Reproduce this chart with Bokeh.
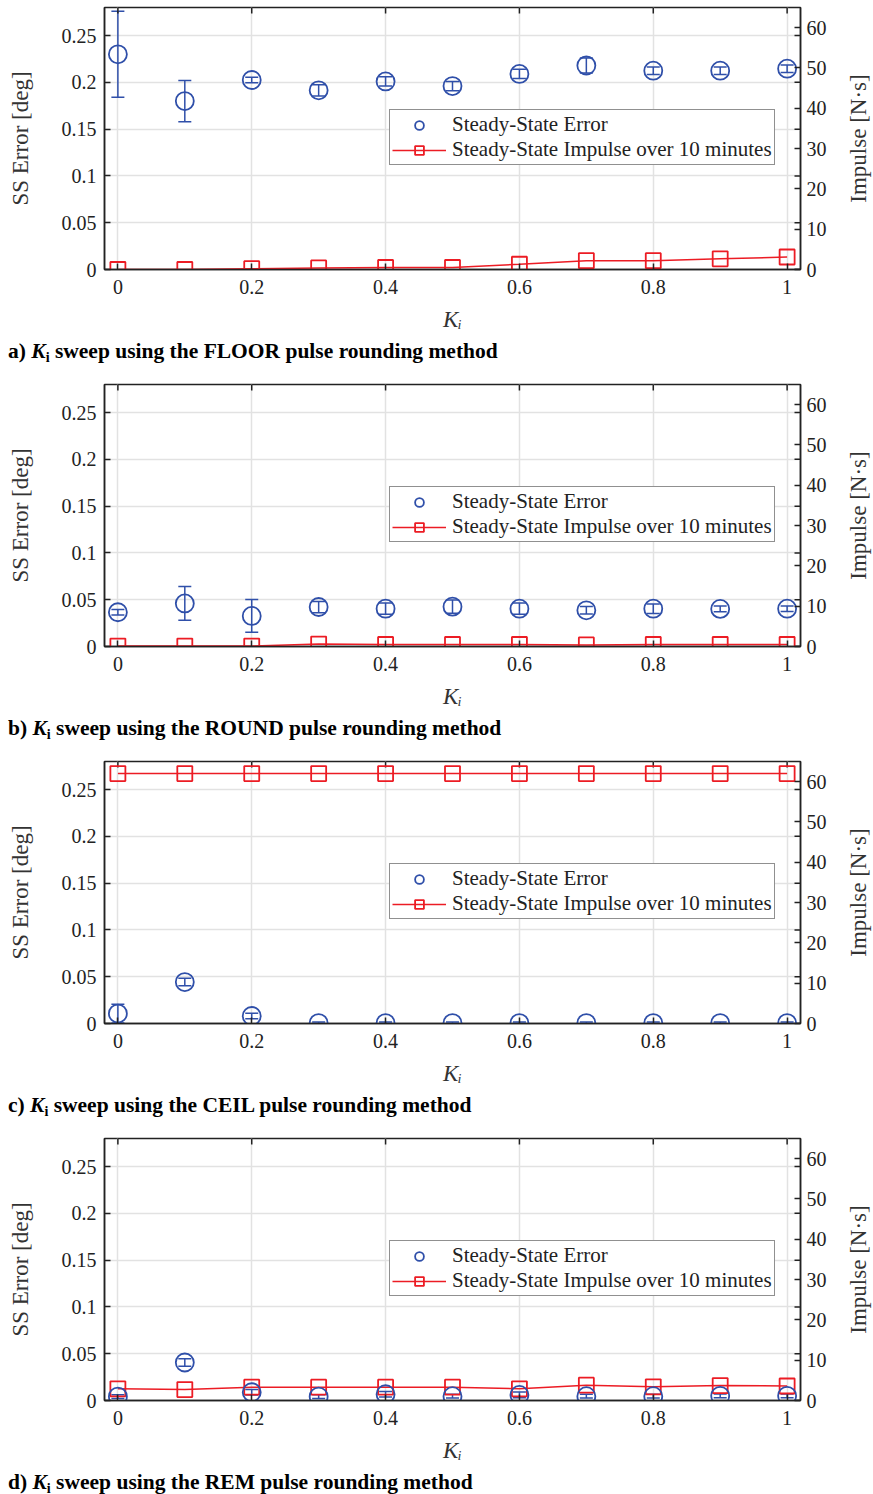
import math
from bokeh.plotting import figure
from bokeh.models import (Range1d, LinearAxis, Whisker, TeeHead, ColumnDataSource,
                          Legend, LegendItem, FixedTicker, Div, Grid)
from bokeh.core.properties import value
from bokeh.layouts import column, row
from bokeh.embed import file_html
from bokeh.resources import INLINE

# ---------------- data ----------------
ki = [0.0, 0.1, 0.2, 0.3, 0.4, 0.5, 0.6, 0.7, 0.8, 0.9, 1.0]

floor_err = [0.230, 0.180, 0.2025, 0.1915, 0.201, 0.196, 0.209, 0.218, 0.2125, 0.2125, 0.2146]
floor_std = [0.046, 0.022, 0.003, 0.006, 0.005, 0.005, 0.005, 0.008, 0.004, 0.004, 0.004]
floor_imp = [0.0, 0.0, 0.2, 0.4, 0.5, 0.5, 1.3, 2.2, 2.2, 2.65, 3.1]

round_err = [0.0366, 0.046, 0.0327, 0.0422, 0.0404, 0.0426, 0.0404, 0.0387, 0.0404, 0.0402, 0.0404]
round_std = [0.003, 0.018, 0.0175, 0.006, 0.006, 0.007, 0.006, 0.004, 0.005, 0.003, 0.003]
round_imp = [0.1, 0.1, 0.1, 0.6, 0.5, 0.5, 0.5, 0.4, 0.5, 0.5, 0.5]

ceil_err = [0.0106, 0.0443, 0.008, 0.0005, 0.0005, 0.0005, 0.0005, 0.0005, 0.0005, 0.0005, 0.0005]
ceil_std = [0.010, 0.004, 0.003, 0.001, 0.001, 0.001, 0.001, 0.001, 0.001, 0.001, 0.001]
ceil_imp = [62.0, 62.0, 62.0, 62.0, 62.0, 62.0, 62.0, 62.0, 62.0, 62.0, 62.0]

rem_err = [0.0042, 0.0406, 0.0088, 0.0042, 0.0067, 0.0046, 0.006, 0.0046, 0.0046, 0.005, 0.005]
rem_std = [0.002, 0.004, 0.003, 0.002, 0.003, 0.002, 0.003, 0.002, 0.002, 0.002, 0.002]
rem_imp = [2.9, 2.7, 3.3, 3.3, 3.3, 3.3, 2.9, 3.8, 3.4, 3.7, 3.6]

methods = ["FLOOR", "ROUND", "CEIL", "REM"]
panel_letters = ["a", "b", "c", "d"]

x_ticks = [0, 0.2, 0.4, 0.6, 0.8, 1.0]
x_tick_labels = ["0", "0.2", "0.4", "0.6", "0.8", "1"]
y_ticks = [0, 0.05, 0.1, 0.15, 0.2, 0.25]
y_tick_labels = ["0", "0.05", "0.1", "0.15", "0.2", "0.25"]
imp_ticks = [0, 10, 20, 30, 40, 50, 60]
imp_tick_labels = ["0", "10", "20", "30", "40", "50", "60"]

legend_labels = ["Steady-State Error", "Steady-State Impulse over 10 minutes"]
y_label = "SS Error [deg]"
y2_label = "Impulse [N·s]"
x_label = "K\u1d62"

# ---------------- style ----------------
BLUE = "#2f4fa9"
RED = "#ec1c24"
FONT = "Liberation Serif"
GRID = "#e2e2e2"
INK = "#222222"


def style_axis(ax, ticks, labels):
    ax.ticker = FixedTicker(ticks=ticks)
    ax.major_label_overrides = {t: l for t, l in zip(ticks, labels)}
    ax.major_tick_in = 6
    ax.major_tick_out = 0
    ax.minor_tick_line_color = None
    ax.axis_line_color = INK
    ax.axis_line_width = 1.5
    ax.major_tick_line_color = INK
    ax.major_tick_line_width = 1.5
    ax.major_label_text_font = FONT
    ax.major_label_text_color = INK
    ax.major_label_text_font_size = "20px"
    ax.axis_label_text_font = FONT
    ax.axis_label_text_font_size = "23px"
    ax.axis_label_text_font_style = "normal"
    ax.axis_label_text_color = "#333333"


def make_panel(err, std, imp):
    xr = Range1d(-0.02, 1.02)
    yr0 = Range1d(0, 0.28)
    p = figure(width=843, height=339, output_backend="svg", toolbar_location=None,
               x_range=xr, y_range=yr0,
               min_border_left=104, min_border_right=43, min_border_top=7,
               min_border_bottom=70, x_axis_location=None, y_axis_location=None)
    p.extra_y_ranges = {"imp": Range1d(0, 65)}
    p.outline_line_color = INK
    p.outline_line_width = 1.5
    p.background_fill_color = "white"
    p.border_fill_color = "white"

    # axes
    xb = LinearAxis(axis_label=x_label)
    style_axis(xb, x_ticks, x_tick_labels)
    xb.axis_label_text_font_style = "italic"
    xb.major_label_standoff = 10
    xb.axis_label_standoff = 10
    p.add_layout(xb, "below")

    yl = LinearAxis(axis_label=y_label)
    style_axis(yl, y_ticks, y_tick_labels)
    yl.major_label_standoff = 8
    yl.axis_label_standoff = 26
    p.add_layout(yl, "left")

    yr = LinearAxis(y_range_name="imp")
    style_axis(yr, imp_ticks, imp_tick_labels)
    yr.major_label_standoff = 6
    p.add_layout(yr, "right")

    # grid
    p.add_layout(Grid(dimension=0, ticker=FixedTicker(ticks=x_ticks),
                      grid_line_color=GRID, grid_line_width=1.5))
    p.add_layout(Grid(dimension=1, ticker=FixedTicker(ticks=y_ticks),
                      grid_line_color=GRID, grid_line_width=1.5))

    # mirrored inward ticks on the top edge and on the right edge (clipped to the frame)
    p.scatter(x=x_ticks, y=[yr0.end] * len(x_ticks), marker="dash", angle=math.pi / 2,
              size=12, line_color=INK, line_width=1.5)
    p.scatter(x=[xr.end] * len(y_ticks), y=y_ticks, marker="dash",
              size=12, line_color=INK, line_width=1.5)

    src = ColumnDataSource(dict(
        x=ki, err=err,
        upper=[e + s for e, s in zip(err, std)],
        lower=[max(e - s, 0) for e, s in zip(err, std)],
        imp=imp))

    # impulse line
    r_line = p.line("x", "imp", source=src, y_range_name="imp", line_color=RED, line_width=1.5)
    r_sq = p.scatter("x", "imp", source=src, y_range_name="imp", marker="square", size=15,
                     fill_color=None, line_color=RED, line_width=1.8)

    # error bars
    wh = Whisker(base="x", upper="upper", lower="lower", source=src,
                 line_color=BLUE, line_width=1.5,
                 upper_head=TeeHead(size=13, line_color=BLUE, line_width=1.5),
                 lower_head=TeeHead(size=13, line_color=BLUE, line_width=1.5))
    p.add_layout(wh)
    r_c = p.scatter("x", "err", source=src, marker="circle", size=18,
                    fill_color=None, line_color=BLUE, line_width=1.8)

    leg = Legend(items=[LegendItem(label=legend_labels[0], renderers=[r_c]),
                        LegendItem(label=legend_labels[1], renderers=[r_line, r_sq])],
                 location=(285, 104))
    leg.label_text_font = FONT
    leg.label_text_font_size = "21px"
    leg.label_text_color = INK
    leg.border_line_color = INK
    leg.border_line_width = 1.5
    leg.background_fill_alpha = 1.0
    leg.glyph_width = 54
    leg.glyph_height = 22
    leg.label_height = 22
    leg.label_standoff = 6
    leg.padding = 2
    leg.spacing = 0
    leg.margin = 0
    p.add_layout(leg, "center")

    # narrow strip to the right that carries the right-hand axis title (reads bottom-to-top)
    q = figure(width=30, height=339, output_backend="svg", toolbar_location=None,
               x_range=Range1d(0, 1), y_range=Range1d(0, 1),
               min_border_left=0, min_border_right=0, min_border_top=7,
               min_border_bottom=70, x_axis_location=None, y_axis_location=None)
    q.grid.visible = False
    q.outline_line_color = None
    q.background_fill_color = "white"
    q.border_fill_color = "white"
    q.text(x=[0.5], y=[0.5], text=[y2_label], angle=math.pi / 2, text_align="center",
           text_baseline="middle", text_font=value(FONT), text_font_size="23px",
           text_color="#333333")
    return row(p, q, spacing=0)


datasets = [(floor_err, floor_std, floor_imp), (round_err, round_std, round_imp),
            (ceil_err, ceil_std, ceil_imp), (rem_err, rem_std, rem_imp)]

children = []
for i, (e, s, im) in enumerate(datasets):
    children.append(make_panel(e, s, im))
    cap = (f"{panel_letters[i]}) <i>K</i><sub style='font-size:14px;line-height:0;"
           f"vertical-align:-4px'>i</sub> sweep using the {methods[i]} pulse rounding method")
    children.append(Div(text=cap, width=860, height=38 if i < 3 else 24,
                        margin=(0, 0, 0, 8),
                        styles={"font-family": FONT, "font-size": "21.5px",
                                "font-weight": "bold", "line-height": "24px",
                                "color": "#000000"}))

layout = column(*children, spacing=0)
open("out.html", "w").write(file_html(layout, INLINE))
